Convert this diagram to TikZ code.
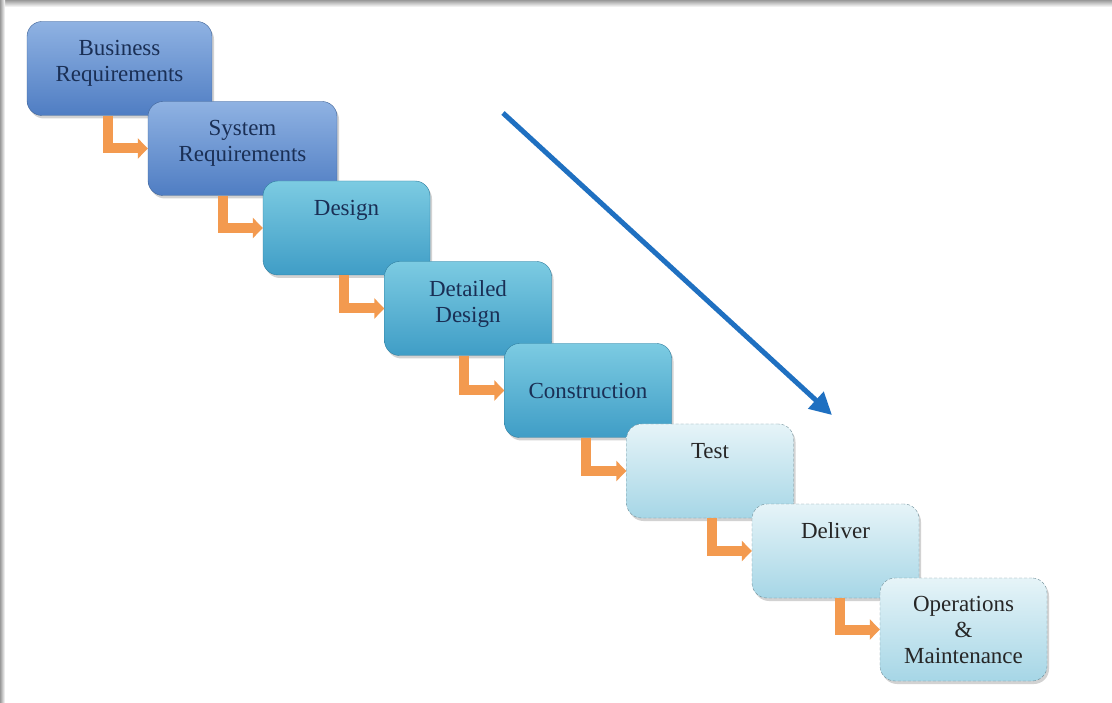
\documentclass[tikz,border=0pt]{standalone}
\usepackage{fontspec}
\setmainfont{Liberation Serif}
\usetikzlibrary{arrows.meta,shadows}
\definecolor{bluetop}{HTML}{8FB2E2}
\definecolor{bluebot}{HTML}{4F7DC3}
\definecolor{blueline}{HTML}{3E6296}
\definecolor{tealtop}{HTML}{7CCBE2}
\definecolor{tealbot}{HTML}{3F9DC6}
\definecolor{tealline}{HTML}{2D7C9E}
\definecolor{paletop}{HTML}{E6F4F8}
\definecolor{palebot}{HTML}{A6D6E6}
\definecolor{paleline}{HTML}{6F8E98}
\definecolor{navytext}{HTML}{1A2F55}
\definecolor{flowcol}{HTML}{F39A4F}
\definecolor{trendcol}{HTML}{1F70C1}
\newcommand{\uptext}[1]{\parbox[c][56pt][t]{160pt}{\centering #1}}

\begin{document}
\begin{tikzpicture}[x=1pt,y=-1pt,
	phase/.style={rounded corners=15pt, minimum width=167pt, minimum height=94pt, inner sep=0pt, align=center,
		font=\fontsize{23}{26}\selectfont, drop shadow={opacity=0.35, shadow xshift=2pt, shadow yshift=-3pt}},
	bluephase/.style={phase, top color=bluetop, bottom color=bluebot, draw=blueline, text=navytext},
	tealphase/.style={phase, top color=tealtop, bottom color=tealbot, draw=tealline, text=navytext},
	palephase/.style={phase, top color=paletop, bottom color=palebot, draw=paleline, densely dashed, text=black!85},
	flow/.style={draw=flowcol, line width=10pt, -{Triangle[length=10pt, width=20pt]}},
	trend/.style={draw=trendcol, line width=5pt, -{Triangle[length=22pt, width=22pt]}}]
	\fill[white] (0,0) rectangle (1112,703);
	\useasboundingbox (0,0) rectangle (1112,703);
	\shade[top color=black!40, bottom color=white] (0,0) rectangle (1112,7);
	\shade[left color=black!40, right color=white] (0,0) rectangle (5,703);

	\node[bluephase, minimum width=185pt] (busreq) at (119.5,68.5) {\uptext{Business\\Requirements}};
	\node[bluephase, minimum width=189pt] (sysreq) at (242.5,148.5) {\uptext{System\\Requirements}};
	\node[tealphase] (design) at (346.5,228) {\uptext{Design}};
	\node[tealphase] (detdesign) at (468,308.5) {\uptext{Detailed\\Design}};
	\node[tealphase] (construct) at (588,390.5) {Construction};
	\node[palephase] (test) at (710,471) {\uptext{Test}};
	\node[palephase] (deliver) at (835.5,551) {\uptext{Deliver}};
	\node[palephase, minimum height=103pt] (opsmaint) at (963.5,629.5) {Operations\\\&\\Maintenance};

	\foreach \a/\b in {busreq/sysreq, sysreq/design, design/detdesign, detdesign/construct,
		construct/test, test/deliver, deliver/opsmaint}
		\draw[flow] ([xshift=-40pt]\b.west |- \a.south) |- (\b.west);

	\coordinate (trendtop) at (503,113);
	\coordinate (trendend) at (832,415);
	\draw[trend] (trendtop) -- (trendend);
\end{tikzpicture}
\end{document}
